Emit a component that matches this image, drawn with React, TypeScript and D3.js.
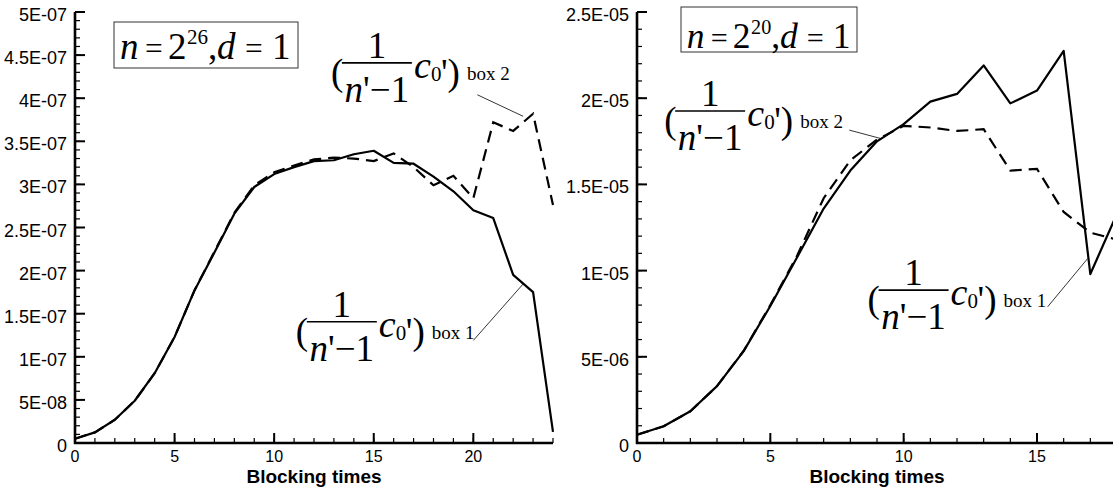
import React from 'react';
import * as d3 from 'd3';

const W = 1113;
const H = 494;

// left panel: n = 2^26
const timesL = [0, 1, 2, 3, 4, 5, 6, 7, 8, 9, 10, 11, 12, 13, 14, 15, 16, 17, 18, 19, 20, 21, 22, 23, 24];
const box1L = [5e-9, 1.23e-8, 2.7e-8, 4.9e-8, 8.1e-8, 1.23e-7, 1.77e-7, 2.21e-7, 2.66e-7, 2.97e-7, 3.12e-7, 3.2e-7, 3.27e-7, 3.28e-7, 3.35e-7, 3.39e-7, 3.25e-7, 3.24e-7, 3.09e-7, 2.92e-7, 2.7e-7, 2.61e-7, 1.95e-7, 1.75e-7, 1.3e-8];
const box2L = [5e-9, 1.23e-8, 2.7e-8, 4.9e-8, 8.1e-8, 1.23e-7, 1.77e-7, 2.22e-7, 2.67e-7, 2.99e-7, 3.14e-7, 3.22e-7, 3.29e-7, 3.31e-7, 3.3e-7, 3.27e-7, 3.36e-7, 3.2e-7, 2.99e-7, 3.1e-7, 2.84e-7, 3.72e-7, 3.62e-7, 3.82e-7, 2.76e-7];
const yTicksL = [0, 5e-8, 1e-7, 1.5e-7, 2e-7, 2.5e-7, 3e-7, 3.5e-7, 4e-7, 4.5e-7, 5e-7];
const yLabelsL = ['0', '5E-08', '1E-07', '1.5E-07', '2E-07', '2.5E-07', '3E-07', '3.5E-07', '4E-07', '4.5E-07', '5E-07'];
const xTicksL = [0, 5, 10, 15, 20];

// right panel: n = 2^20
const timesR = [0, 1, 2, 3, 4, 5, 6, 7, 8, 9, 10, 11, 12, 13, 14, 15, 16, 17, 18];
const box1R = [4.8e-7, 9.7e-7, 1.84e-6, 3.3e-6, 5.33e-6, 7.95e-6, 1.076e-5, 1.36e-5, 1.58e-5, 1.75e-5, 1.85e-5, 1.98e-5, 2.025e-5, 2.19e-5, 1.97e-5, 2.044e-5, 2.275e-5, 9.8e-6, 1.33e-5];
const box2R = [4.8e-7, 9.7e-7, 1.84e-6, 3.3e-6, 5.35e-6, 8.0e-6, 1.085e-5, 1.42e-5, 1.64e-5, 1.76e-5, 1.84e-5, 1.83e-5, 1.81e-5, 1.82e-5, 1.58e-5, 1.59e-5, 1.34e-5, 1.22e-5, 1.18e-5];
const yTicksR = [0, 5e-6, 1e-5, 1.5e-5, 2e-5, 2.5e-5];
const yLabelsR = ['0', '5E-06', '1E-05', '1.5E-05', '2E-05', '2.5E-05'];
const xTicksR = [0, 5, 10, 15];

const sans = "'Liberation Sans', Arial, sans-serif";
const serif = "'Liberation Serif', 'Times New Roman', serif";

type Pt = [number, number];

const Frac = ({ bx, by, sub }: { bx: number; by: number; sub: string }) => (
  <g fontFamily={serif} fill="#000">
    <text x={bx - 11} y={by + 22} fontSize={37}>(</text>
    <text x={bx + 35} y={by - 5} fontSize={37} textAnchor="middle">1</text>
    <line x1={bx} x2={bx + 70} y1={by} y2={by} stroke="#000" strokeWidth={1.6} />
    <text x={bx + 35} y={by + 39} fontSize={37} textAnchor="middle">
      <tspan fontStyle="italic">n</tspan>'−1
    </text>
    <text x={bx + 72} y={by + 15} fontSize={38} fontStyle="italic">c</text>
    <text x={bx + 89} y={by + 18} fontSize={21}>0</text>
    <text x={bx + 99} y={by + 22} fontSize={37}>')</text>
    <text x={bx + 125} y={by + 17} fontSize={19}>{sub}</text>
  </g>
);

const TitleBox = ({ x, y, w, h, base, k, exp }: { x: number; y: number; w: number; h: number; base: number; k: number; exp: string }) => {
  const fs = 37 * k;
  const ty = y + base;
  return (
    <g fontFamily={serif} fill="#000">
      <rect x={x} y={y} width={w} height={h} fill="none" stroke="#333" strokeWidth={1} />
      <text x={x + 6 * k} y={ty} fontSize={fs} fontStyle="italic">n</text>
      <text x={x + 31 * k} y={ty} fontSize={fs * 0.85}>=</text>
      <text x={x + 54 * k} y={ty} fontSize={fs}>2</text>
      <text x={x + 73 * k} y={ty - 15 * k} fontSize={21 * k}>{exp}</text>
      <text x={x + 94 * k} y={ty} fontSize={fs}>,</text>
      <text x={x + 103 * k} y={ty} fontSize={fs} fontStyle="italic">d</text>
      <text x={x + 131 * k} y={ty} fontSize={fs * 0.85}>=</text>
      <text x={x + 158 * k} y={ty} fontSize={fs}>1</text>
    </g>
  );
};

type PanelProps = {
  xs: number[];
  solid: number[];
  dashed: number[];
  x: d3.ScaleLinear<number, number>;
  y: d3.ScaleLinear<number, number>;
  yTicks: number[];
  yLabels: string[];
  xTicks: number[];
  yMinor: number;
  xMinor: number;
};

const Panel = ({ xs, solid, dashed, x, y, yTicks, yLabels, xTicks, yMinor, xMinor }: PanelProps) => {
  const [x0, x1] = x.range();
  const [y0, y1] = y.range();
  const line = d3.line<Pt>().x(d => x(d[0])).y(d => y(d[1]));
  const sPts: Pt[] = xs.map((t, i) => [t, solid[i]]);
  const dPts: Pt[] = xs.map((t, i) => [t, dashed[i]]);
  return (
    <g>
      <path d={line(dPts) || ''} fill="none" stroke="#000" strokeWidth={2.2} strokeDasharray="12,7" />
      <path d={line(sPts) || ''} fill="none" stroke="#000" strokeWidth={2.2} strokeLinejoin="round" />
      {y.ticks(yMinor).map((t, i) => (
        <line key={'ym' + i} x1={x0} x2={x0 + 5} y1={y(t)} y2={y(t)} stroke="#000" strokeWidth={1.2} />
      ))}
      {x.ticks(xMinor).map((t, i) => (
        <line key={'xm' + i} x1={x(t)} x2={x(t)} y1={y0} y2={y0 - 5} stroke="#000" strokeWidth={1.2} />
      ))}
      {yTicks.map((t, i) => (
        <g key={'y' + i}>
          <line x1={x0} x2={x0 + 10} y1={y(t)} y2={y(t)} stroke="#000" strokeWidth={2} />
          <text x={x0 - 8} y={y(t) + 3} fontSize={18} fontFamily={sans} textAnchor="end" dominantBaseline="central">{yLabels[i]}</text>
        </g>
      ))}
      {xTicks.map((t, i) => (
        <g key={'x' + i}>
          <line x1={x(t)} x2={x(t)} y1={y0} y2={y0 - 10} stroke="#000" strokeWidth={2} />
          <text x={x(t)} y={y0 + 19} fontSize={16} fontFamily={sans} textAnchor="middle">{t}</text>
        </g>
      ))}
      <line x1={x0} x2={x0} y1={y0 + 1} y2={y1} stroke="#000" strokeWidth={2.6} />
      <line x1={x0 - 1} x2={x1} y1={y0} y2={y0} stroke="#000" strokeWidth={2.6} />
      <text x={(x0 + x1) / 2} y={y0 + 40} fontSize={19} fontWeight="bold" fontFamily={sans} textAnchor="middle">Blocking times</text>
    </g>
  );
};

export default function App() {
  const xL = d3.scaleLinear().domain([0, 24]).range([75, 553]);
  const yL = d3.scaleLinear().domain([0, 5e-7]).range([443, 12]);
  const xR = d3.scaleLinear().domain([0, 18]).range([637, 1117]);
  const yR = d3.scaleLinear().domain([0, 2.5e-5]).range([443, 12]);

  // annotation anchors in data coordinates: [label x, label y, target x, target y]
  const leadL2 = [20.2, 4.04e-7, 22.5, 3.79e-7];
  const leadL1 = [20.0, 1.19e-7, 22.52, 1.85e-7];
  const leadR2 = [7.96, 1.815e-5, 9.12, 1.767e-5];
  const leadR1 = [15.4, 7.9e-6, 16.9, 1.07e-5];

  return (
    <svg width={W} height={H} style={{ position: 'absolute', left: 0, top: 0, background: '#fff' }}>
      <rect width={W} height={H} fill="#fff" />
      <Panel xs={timesL} solid={box1L} dashed={box2L} x={xL} y={yL} yTicks={yTicksL} yLabels={yLabelsL} xTicks={xTicksL} yMinor={50} xMinor={24} />
      <Panel xs={timesR} solid={box1R} dashed={box2R} x={xR} y={yR} yTicks={yTicksR} yLabels={yLabelsR} xTicks={xTicksR} yMinor={25} xMinor={18} />

      <TitleBox x={114} y={22} w={184} h={46} base={37} k={1} exp="26" />
      <TitleBox x={681} y={7} w={176} h={45} base={41} k={0.96} exp="20" />

      <Frac bx={xL(13.4)} by={yL(4.41e-7)} sub="box 2" />
      <Frac bx={xL(11.64)} by={yL(1.407e-7)} sub="box 1" />
      <Frac bx={xR(1.43)} by={yR(1.926e-5)} sub="box 2" />
      <Frac bx={xR(9.06)} by={yR(8.87e-6)} sub="box 1" />

      {[[leadL2, xL, yL], [leadL1, xL, yL], [leadR2, xR, yR], [leadR1, xR, yR]].map(([l, sx, sy]: any, i) => (
        <line key={i} x1={sx(l[0])} y1={sy(l[1])} x2={sx(l[2])} y2={sy(l[3])} stroke="#000" strokeWidth={0.8} />
      ))}
    </svg>
  );
}
